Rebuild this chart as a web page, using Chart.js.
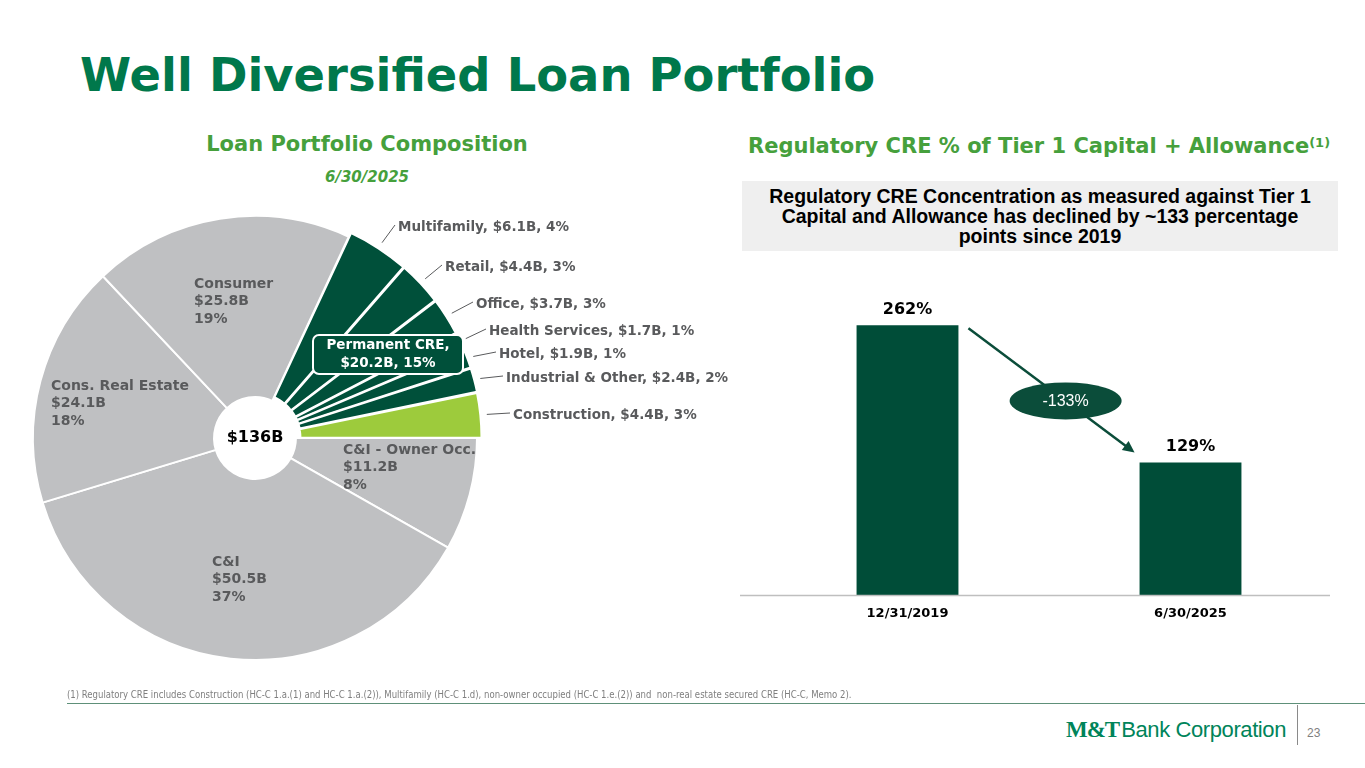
<!DOCTYPE html>
<html>
<head>
<meta charset="utf-8">
<script src="https://cdn.jsdelivr.net/npm/chart.js@4.4.1/dist/chart.umd.min.js"></script>
<style>
    body { margin: 0; width: 1365px; height: 768px; overflow: hidden; background: #fff; position: relative; font-family: "Liberation Sans", Arial, sans-serif; }
    .abs { position: absolute; white-space: pre; }
    .heavy { font-family: "DejaVu Sans", sans-serif; font-weight: bold; }
    #title { left: 80px; top: 50px; line-height: 50px; font-size: 46.4px; color: #00784b; }
    .sub { font-size: 21px; line-height: 24px; color: #46a03c; }
    #box { left: 742px; top: 181px; width: 596px; height: 70px; background: #efefef; }
    #boxText { left: 742px; top: 186px; width: 596px; text-align: center; font-weight: bold; font-size: 19.5px; line-height: 20px; color: #000; }
    #foot { left: 67px; top: 687px; font-family: "Liberation Sans Narrow", "DejaVu Sans Condensed", sans-serif; font-size: 10.5px; line-height: 14px; color: #7f7f7f; transform: scaleX(0.904); transform-origin: 0 0; }
    #rule { left: 67px; top: 703px; width: 1298px; height: 0; border-top: 1.5px solid #5e9079; }
    #divider { left: 1297px; top: 705px; width: 0; height: 40px; border-left: 1px solid #8a8a8a; }
    #logo { left: 1066px; top: 716px; line-height: 28px; color: #00845a; }
    #page { left: 1307px; top: 725px; font-size: 12px; line-height: 16px; color: #7f7f7f; }
</style>
</head>
<body>
<div id="title" class="abs heavy">Well Diversified Loan Portfolio</div>
<div class="abs heavy sub" style="left:167px; top:132px; width:400px; text-align:center;">Loan Portfolio Composition</div>
<div class="abs heavy" style="left:267px; top:168px; width:200px; text-align:center; font-size:15px; line-height:18px; font-style:italic; color:#46a03c;">6/30/2025</div>
<div class="abs heavy sub" style="left:748px; top:131px;">Regulatory CRE % of Tier 1 Capital + Allowance<span style="font-size:13px; vertical-align:6px;">(1)</span></div>
<div id="box" class="abs"></div>
<div id="boxText" class="abs">Regulatory CRE Concentration as measured against Tier 1
Capital and Allowance has declined by ~133 percentage
points since 2019</div>

<canvas id="pieChart" class="abs" width="740" height="500" style="left:0px; top:188px;"></canvas>
<canvas id="barChart" class="abs" width="600" height="351" style="left:740px; top:280px;"></canvas>

<div id="foot" class="abs">(1) Regulatory CRE includes Construction (HC-C 1.a.(1) and HC-C 1.a.(2)), Multifamily (HC-C 1.d), non-owner occupied (HC-C 1.e.(2)) and  non-real estate secured CRE (HC-C, Memo 2).</div>
<div id="rule" class="abs"></div>
<div id="divider" class="abs"></div>
<div id="logo" class="abs"><span style="font-family:'Liberation Serif', serif; font-weight:bold; font-size:23px; letter-spacing:-1px;">M&amp;T</span><span style="font-size:22px; letter-spacing:-0.4px; margin-left:2px;">Bank Corporation</span></div>
<div id="page" class="abs">23</div>

<script>
// loan portfolio, $B, clockwise from 3 o'clock
const sliceNames = ["C&I - Owner Occ.", "C&I", "Cons. Real Estate", "Consumer", "Multifamily", "Retail", "Office", "Health Services", "Hotel", "Industrial & Other", "Construction"]
const sliceValues = [11.2, 50.5, 24.1, 25.8, 6.1, 4.4, 3.7, 1.7, 1.9, 2.4, 4.4]
const slicePcts = [8, 37, 18, 19, 4, 3, 3, 1, 1, 2, 3]
const totalLabel = "$136B"
const permanentLabel = ["Permanent CRE,", "$20.2B, 15%"]

// regulatory CRE % of tier 1 capital + allowance
const barDates = ["12/31/2019", "6/30/2025"]
const barValues = [262, 129]
const changeLabel = "-133%"

const colors = {
    gray: "#bfc0c2",
    dark: "#00503a",
    light: "#9dcb3c",
    text: "#595a5c",
    bar: "#004d38",
}

const heavyFont = (size) => `bold ${size}px "DejaVu Sans", sans-serif`

// label spots relative to the pie centre
const insideSpots = [[88, 12], [-43, 124], [-204, -52], [-61, -154]]
const outsideSpots = { 4: [143, -211], 5: [190, -171], 6: [221, -134], 7: [234, -107], 8: [244, -84], 9: [251, -60], 10: [258, -23] }

const pieLabels = {
    id: "pieLabels",
    afterDatasetsDraw(chart) {
        const ctx = chart.ctx
        const arcs = chart.getDatasetMeta(0).data
        const cx = arcs[0].x
        const cy = arcs[0].y
        ctx.save()
        ctx.textBaseline = "middle"
        ctx.textAlign = "left"
        ctx.fillStyle = colors.text
        ctx.font = heavyFont(14)
        insideSpots.forEach(([dx, dy], i) => {
            const lines = [sliceNames[i], `$${sliceValues[i]}B`, `${slicePcts[i]}%`]
            lines.forEach((t, j) => ctx.fillText(t, cx + dx, cy + dy + j * 17.5))
        })

        ctx.font = heavyFont(13.5)
        ctx.strokeStyle = colors.text
        ctx.lineWidth = 1
        Object.entries(outsideSpots).forEach(([k, [dx, dy]]) => {
            const i = Number(k)
            const arc = arcs[i]
            const mid = (arc.startAngle + arc.endAngle) / 2
            const r = arc.outerRadius + (arc.options.offset || 0) + 1
            const tx = cx + dx
            const ty = cy + dy
            ctx.beginPath()
            ctx.moveTo(cx + Math.cos(mid) * r, cy + Math.sin(mid) * r)
            ctx.lineTo(tx - 3, ty - 2)
            ctx.stroke()
            ctx.fillText(`${sliceNames[i]}, $${sliceValues[i]}B, ${slicePcts[i]}%`, tx, ty)
        })

        // centre total
        ctx.fillStyle = "#000"
        ctx.font = heavyFont(16)
        ctx.textAlign = "center"
        ctx.fillText(totalLabel, cx, cy)

        // permanent CRE callout
        const bx = cx + 58
        const by = cy - 103
        const bw = 150
        const bh = 39
        ctx.beginPath()
        ctx.roundRect(bx, by, bw, bh, 6)
        ctx.fillStyle = colors.dark
        ctx.fill()
        ctx.strokeStyle = "#fff"
        ctx.lineWidth = 2
        ctx.stroke()
        ctx.fillStyle = "#fff"
        ctx.font = heavyFont(13.5)
        ctx.fillText(permanentLabel[0], bx + bw / 2, by + 10.5)
        ctx.fillText(permanentLabel[1], bx + bw / 2, by + 28.5)
        ctx.restore()
    },
}

new Chart(document.getElementById("pieChart"), {
    type: "doughnut",
    data: {
        labels: sliceNames,
        datasets: [
            {
                data: sliceValues,
                backgroundColor: [colors.gray, colors.gray, colors.gray, colors.gray, colors.dark, colors.dark, colors.dark, colors.dark, colors.dark, colors.dark, colors.light],
                offset: [0, 0, 0, 0, 10, 10, 10, 10, 10, 10, 10],
                borderColor: "#ffffff",
                borderWidth: 2,
            },
        ],
    },
    options: {
        responsive: false,
        animation: false,
        rotation: 90,
        radius: 222,
        cutout: 45,
        layout: { padding: { right: 230 } },
        plugins: {
            legend: { display: false },
            tooltip: { enabled: false },
        },
    },
    plugins: [pieLabels],
})

const barExtras = {
    id: "barExtras",
    afterDatasetsDraw(chart) {
        const ctx = chart.ctx
        const bars = chart.getDatasetMeta(0).data
        const area = chart.chartArea
        ctx.save()
        // baseline
        ctx.strokeStyle = "#bfbfbf"
        ctx.lineWidth = 1.5
        ctx.beginPath()
        ctx.moveTo(0, area.bottom)
        ctx.lineTo(area.right - 2, area.bottom)
        ctx.stroke()

        // values on top
        ctx.fillStyle = "#000"
        ctx.font = heavyFont(16)
        ctx.textAlign = "center"
        ctx.textBaseline = "middle"
        bars.forEach((b, i) => ctx.fillText(`${barValues[i]}%`, b.x, b.y - 16))

        // arrow between bar tops
        const [b0, b1] = bars
        const x0 = b0.x + b0.width / 2 + 10
        const y0 = b0.y + 3
        const x1 = b1.x - b1.width / 2 - 5
        const y1 = b1.y - 10
        const ang = Math.atan2(y1 - y0, x1 - x0)
        ctx.strokeStyle = "#0b4d3a"
        ctx.fillStyle = "#0b4d3a"
        ctx.lineWidth = 2.5
        ctx.beginPath()
        ctx.moveTo(x0, y0)
        ctx.lineTo(x1 - Math.cos(ang) * 8, y1 - Math.sin(ang) * 8)
        ctx.stroke()
        ctx.beginPath()
        ctx.moveTo(x1, y1)
        ctx.lineTo(x1 - Math.cos(ang - 0.45) * 13, y1 - Math.sin(ang - 0.45) * 13)
        ctx.lineTo(x1 - Math.cos(ang + 0.45) * 13, y1 - Math.sin(ang + 0.45) * 13)
        ctx.closePath()
        ctx.fill()

        // change bubble
        const t = 0.585
        const ex = x0 + (x1 - x0) * t
        const ey = y0 + (y1 - y0) * t
        ctx.beginPath()
        ctx.ellipse(ex, ey, 56, 18.5, 0, 0, Math.PI * 2)
        ctx.fillStyle = "#0b4d3a"
        ctx.fill()
        ctx.fillStyle = "#fff"
        ctx.font = '16px "Liberation Sans", Arial, sans-serif'
        ctx.fillText(changeLabel, ex, ey + 1)
        ctx.restore()
    },
}

new Chart(document.getElementById("barChart"), {
    type: "bar",
    data: {
        labels: barDates,
        datasets: [
            {
                data: barValues,
                backgroundColor: colors.bar,
                barPercentage: 0.36,
                categoryPercentage: 1,
            },
        ],
    },
    options: {
        responsive: false,
        animation: false,
        layout: { padding: { left: 26, right: 8, top: 0, bottom: 0 } },
        plugins: {
            legend: { display: false },
            tooltip: { enabled: false },
        },
        scales: {
            x: {
                grid: { display: false, drawTicks: false },
                border: { display: false },
                ticks: {
                    color: "#000",
                    padding: 10,
                    font: { family: "DejaVu Sans", weight: "bold", size: 13 },
                },
            },
            y: { display: false, min: 0, max: 306 },
        },
    },
    plugins: [barExtras],
})
</script>
</body>
</html>
